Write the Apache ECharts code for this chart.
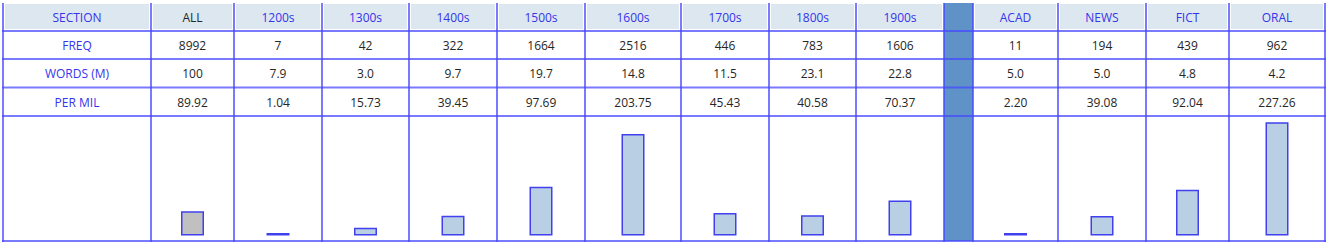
<!DOCTYPE html>
<html>
<head>
<meta charset="utf-8">
<script src="https://cdn.jsdelivr.net/npm/echarts@6/dist/echarts.min.js"></script>
<style>
html,body{margin:0;padding:0;background:#fff;}
#chart{width:1328px;height:244px;}
</style>
</head>
<body>
<div id="chart"></div>
<script>
// ---- data ----
const rowLabels = ['SECTION', 'FREQ', 'WORDS (M)', 'PER MIL'];
const sections = ['ALL', '1200s', '1300s', '1400s', '1500s', '1600s', '1700s', '1800s', '1900s', 'ACAD', 'NEWS', 'FICT', 'ORAL'];
const freq = [8992, 7, 42, 322, 1664, 2516, 446, 783, 1606, 11, 194, 439, 962];
const words = [100, 7.9, 3.0, 9.7, 19.7, 14.8, 11.5, 23.1, 22.8, 5.0, 5.0, 4.8, 4.2];
const perMil = [89.92, 1.04, 15.73, 39.45, 97.69, 203.75, 45.43, 40.58, 70.37, 2.20, 39.08, 92.04, 227.26];

// ---- layout ----
const edges = [3, 151, 234, 322, 409, 497, 585, 681, 769, 856, 944, 973, 1058, 1146, 1229, 1325];
const rowEdges = [3, 31, 59, 87.5, 116, 241];
const gapCol = 10;
const colOf = i => (i < 9 ? i + 1 : i + 2);
const lineColor = 'rgba(70,70,255,0.72)';
const headBg = '#dde7f0';
const headText = '#3535ea';
const bodyText = '#262626';
const font = '"Open Sans", "Noto Sans", sans-serif';
const fs = 12;

const fmtWords = v => (v >= 100 ? String(v) : v.toFixed(1));
const fmtPer = v => v.toFixed(2);

const chart = echarts.init(document.getElementById('chart'), null, {renderer: 'svg'});

const graphics = [];
// header backgrounds
for (let c = 0; c < edges.length - 1; c++) {
  if (c === gapCol) continue;
  graphics.push({type: 'rect', silent: true, z: 1,
    shape: {x: edges[c] + 2, y: rowEdges[0] + 1, width: edges[c + 1] - edges[c] - 4, height: rowEdges[1] - rowEdges[0] - 3},
    style: {fill: headBg}});
}
// blue separator column
graphics.push({type: 'rect', silent: true, z: 2,
  shape: {x: edges[gapCol], y: rowEdges[0], width: edges[gapCol + 1] - edges[gapCol], height: rowEdges[5] - rowEdges[0]},
  style: {fill: '#5f93c8'}});

function cellText(text, c, r, color) {
  graphics.push({type: 'text', silent: true, z: 5,
    x: (edges[c] + edges[c + 1]) / 2, y: (rowEdges[r] + rowEdges[r + 1]) / 2 + 0.5,
    style: {text: text, fill: color, font: fs + 'px ' + font, align: 'center', verticalAlign: 'middle'}});
}
rowLabels.forEach((t, r) => cellText(t, 0, r, headText));
sections.forEach((s, i) => {
  const c = colOf(i);
  cellText(s, c, 0, i === 0 ? bodyText : headText);
  cellText(String(freq[i]), c, 1, bodyText);
  cellText(fmtWords(words[i]), c, 2, bodyText);
  cellText(fmtPer(perMil[i]), c, 3, bodyText);
});

// grid lines
edges.forEach(x => {
  graphics.push({type: 'line', silent: true, z: 4,
    shape: {x1: x, y1: rowEdges[0], x2: x, y2: rowEdges[5] + 1},
    style: {stroke: lineColor, lineWidth: 2}});
});
rowEdges.slice(1).forEach(y => {
  graphics.push({type: 'line', silent: true, z: 4,
    shape: {x1: edges[0] - 1, y1: y, x2: edges[edges.length - 1] + 1, y2: y},
    style: {stroke: lineColor, lineWidth: 2}});
});

// bar grids, one per data column
const grids = [], xAxes = [], yAxes = [], series = [];
sections.forEach((s, i) => {
  const c = colOf(i);
  grids.push({left: edges[c], width: edges[c + 1] - edges[c], top: 116, height: 119.5, containLabel: false});
  xAxes.push({type: 'category', gridIndex: i, data: [s], show: false});
  yAxes.push({type: 'value', gridIndex: i, min: 0, max: i === 0 ? 445 : 240, show: false});
  series.push({type: 'bar', xAxisIndex: i, yAxisIndex: i, data: [perMil[i]],
    barWidth: 23, barMinHeight: 2.5, silent: true,
    itemStyle: {color: i === 0 ? '#c0c0c0' : '#b9cfe4', borderColor: '#4040ee', borderWidth: 1.5}});
});

chart.setOption({
  animation: false,
  backgroundColor: '#ffffff',
  grid: grids, xAxis: xAxes, yAxis: yAxes, series: series,
  graphic: graphics
});
</script>
</body>
</html>
